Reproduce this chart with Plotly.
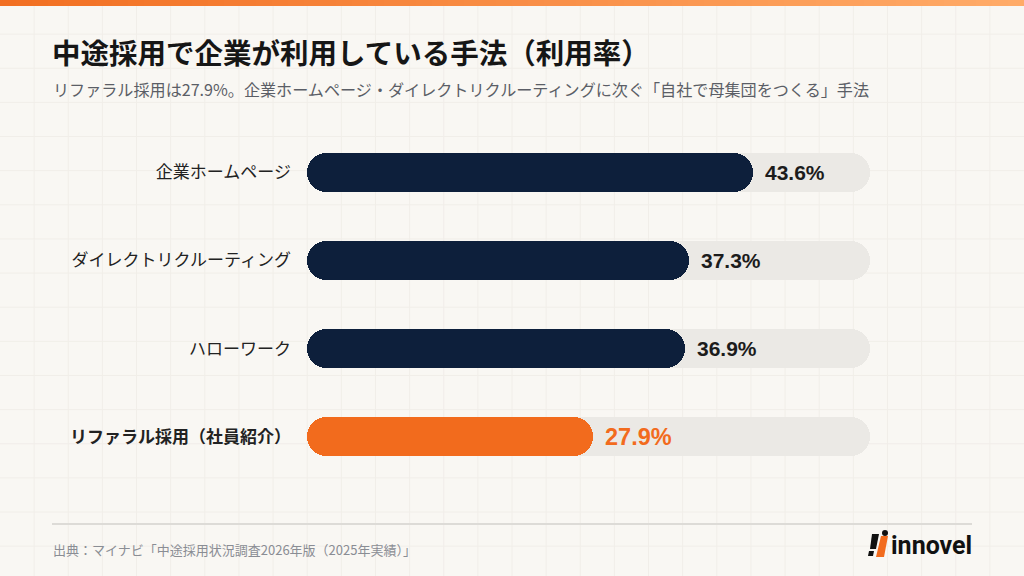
import plotly.graph_objects as go

# data
categories = ["企業ホームページ", "ダイレクトリクルーティング", "ハローワーク", "リファラル採用（社員紹介）"]
usage_rate = [43.6, 37.3, 36.9, 27.9]
track_max = 55
highlight = 3  # referral row

W, H = 1024, 576
L, R, T, B = 307, 154, 128, 95
PW, PH = W - L - R, H - T - B

NAVY = "#0d1f3b"
ORANGE = "#f26b1d"
TRACK = "#ebe9e5"
JP = "Noto Sans CJK JP"
NUM = "Liberation Sans, Noto Sans CJK JP"


def px_x(px):
    return (px - L) / PW


def px_y(py):
    return 1 - (py - T) / PH


def hex_mix(c1, c2, t):
    a = [int(c1[i:i + 2], 16) for i in (1, 3, 5)]
    b = [int(c2[i:i + 2], 16) for i in (1, 3, 5)]
    return "#" + "".join("%02x" % round(a[k] + (b[k] - a[k]) * t) for k in range(3))


ypos = list(range(len(categories)))
bar_colors = [ORANGE if i == highlight else NAVY for i in ypos]

fig = go.Figure()


def rounded_bar(values, colors):
    # two overlapping halves so both ends get rounded
    left_base = [v * 0.6 for v in values]
    left_len = [-v * 0.6 for v in values]
    right_base = [v * 0.4 for v in values]
    right_len = [v * 0.6 for v in values]
    for base, length in ((left_base, left_len), (right_base, right_len)):
        fig.add_trace(go.Bar(
            y=ypos, x=length, base=base, orientation="h", width=0.44,
            marker=dict(color=colors, cornerradius="50%", line=dict(width=0)),
            hoverinfo="skip", showlegend=False,
        ))


rounded_bar([track_max] * len(categories), [TRACK] * len(categories))
rounded_bar(usage_rate, bar_colors)

annotations = []
for i, v in enumerate(usage_rate):
    hl = i == highlight
    annotations.append(dict(
        x=v, y=i, xref="x", yref="y", xanchor="left", yanchor="middle",
        xshift=10, text="<b>%.1f%%</b>" % v, showarrow=False,
        font=dict(family=NUM, size=23.5 if hl else 21, color=ORANGE if hl else "#1c1c1c"),
    ))

ticktext = ["<b>%s</b>" % c if i == highlight else c for i, c in enumerate(categories)]

# title, subtitle, source, logo text
annotations += [
    dict(x=px_x(50), y=px_y(51), xref="paper", yref="paper", xanchor="left", yanchor="middle",
         text="<b>中途採用で企業が利用している手法（利用率）</b>", showarrow=False,
         font=dict(family=JP, size=28.5, color="#161616")),
    dict(x=px_x(51), y=px_y(89), xref="paper", yref="paper", xanchor="left", yanchor="middle",
         text="リファラル採用は27.9%。企業ホームページ・ダイレクトリクルーティングに次ぐ「自社で母集団をつくる」手法",
         showarrow=False, font=dict(family=JP, size=16.1, color="#5b5e66")),
    dict(x=px_x(51), y=px_y(549), xref="paper", yref="paper", xanchor="left", yanchor="middle",
         text="出典：マイナビ「中途採用状況調査2026年版（2025年実績）」", showarrow=False,
         font=dict(family=JP, size=13, color="#8a8d94")),
    dict(x=px_x(974), y=px_y(545), xref="paper", yref="paper", xanchor="right", yanchor="middle",
         text="<b>innovel</b>", showarrow=False,
         font=dict(family="Roboto, Liberation Sans", size=25, color="#111111")),
]

shapes = []
# faint background grid
step = W / 30
k = 1
while k * step < W:
    shapes.append(dict(type="line", xref="paper", yref="paper", layer="below",
                       x0=px_x(k * step), x1=px_x(k * step), y0=px_y(0), y1=px_y(H),
                       line=dict(color="#f1eee9", width=1)))
    k += 1
k = 1
while k * step < H:
    shapes.append(dict(type="line", xref="paper", yref="paper", layer="below",
                       x0=px_x(0), x1=px_x(W), y0=px_y(k * step), y1=px_y(k * step),
                       line=dict(color="#f1eee9", width=1)))
    k += 1

# top gradient strip
n_seg = 64
for s in range(n_seg):
    shapes.append(dict(type="rect", xref="paper", yref="paper",
                       x0=px_x(W * s / n_seg), x1=px_x(W * (s + 1) / n_seg + 1),
                       y0=px_y(0), y1=px_y(6), line=dict(width=0),
                       fillcolor=hex_mix("#f26f22", "#ffab68", s / (n_seg - 1))))

# footer rule
shapes.append(dict(type="line", xref="paper", yref="paper",
                   x0=px_x(52), x1=px_x(972), y0=px_y(524), y1=px_y(524),
                   line=dict(color="#dddbd7", width=2)))


def poly(points, color):
    path = "M " + " L ".join("%f,%f" % (px_x(a), px_y(b)) for a, b in points) + " Z"
    return dict(type="path", xref="paper", yref="paper", path=path,
                fillcolor=color, line=dict(width=0))


# logo mark
shapes.append(poly([(872, 534), (879, 534), (876, 549), (870, 549)], "#111111"))
shapes.append(poly([(869, 551), (874, 551), (873, 556), (868, 556)], "#111111"))
shapes.append(poly([(881, 536), (888, 536), (884, 557), (876, 557)], ORANGE))
shapes.append(dict(type="circle", xref="paper", yref="paper",
                   x0=px_x(882), x1=px_x(888), y0=px_y(530), y1=px_y(536),
                   fillcolor="#111111", line=dict(width=0)))

fig.update_layout(
    width=W, height=H,
    margin=dict(l=L, r=R, t=T, b=B),
    paper_bgcolor="#f9f7f3", plot_bgcolor="rgba(0,0,0,0)",
    barmode="overlay", bargap=0,
    xaxis=dict(range=[0, track_max], visible=False, fixedrange=True),
    yaxis=dict(range=[3.5, -0.5], tickmode="array", tickvals=ypos, ticktext=ticktext,
               showgrid=False, zeroline=False, showline=False, ticks="",
               ticklabelstandoff=15, fixedrange=True,
               tickfont=dict(family=JP, size=17, color="#222222")),
    annotations=annotations, shapes=shapes,
    showlegend=False,
)

# drop the default page margin so the figure sits at the window origin
fig.write_html("out.html", config={"displayModeBar": False},
               post_script="document.body.style.margin='0';")
